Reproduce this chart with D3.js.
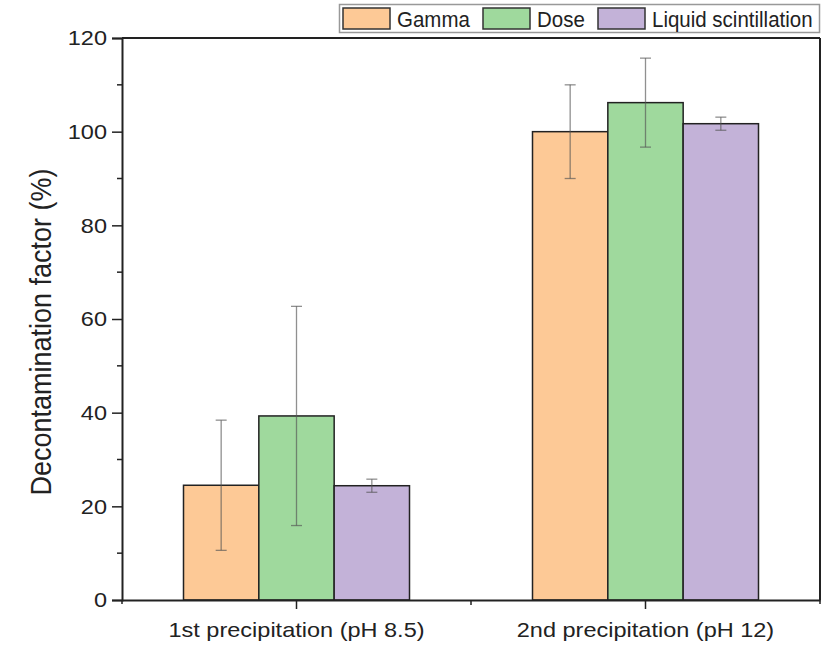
<!DOCTYPE html>
<html>
<head>
<meta charset="utf-8">
<script src="https://cdn.jsdelivr.net/npm/d3@7"></script>
<style>
  body { margin: 0; background: #fff; }
  text { font-family: Arial, "Liberation Sans", sans-serif; fill: #222; }
</style>
</head>
<body>
<svg id="chart" width="821" height="645"></svg>
<script>
// Data
const categories = ["1st precipitation (pH 8.5)", "2nd precipitation (pH 12)"];
const seriesNames = ["Gamma", "Dose", "Liquid scintillation"];
const seriesColors = ["#fdc996", "#9fd99d", "#c3b2d8"];
const gammaValues = [24.5, 100.0];
const gammaErrors = [13.9, 10.0];
const doseValues = [39.3, 106.2];
const doseErrors = [23.4, 9.5];
const lsValues = [24.4, 101.7];
const lsErrors = [1.4, 1.4];
const yTicks = [0, 20, 40, 60, 80, 100, 120];

const rows = [];
categories.forEach((c, i) => {
  rows.push({ cat: c, series: "Gamma", value: gammaValues[i], err: gammaErrors[i] });
  rows.push({ cat: c, series: "Dose", value: doseValues[i], err: doseErrors[i] });
  rows.push({ cat: c, series: "Liquid scintillation", value: lsValues[i], err: lsErrors[i] });
});

// Layout
const margin = { top: 38, right: 1, bottom: 45, left: 122 };
const width = 821 - margin.left - margin.right;
const height = 645 - margin.top - margin.bottom;
const stretch = 1.12; // text in the figure is slightly wide

const svg = d3.select("#chart");
const g = svg.append("g").attr("transform", `translate(${margin.left},${margin.top})`);

const x = d3.scaleBand().domain(categories).range([0, width]).padding(0);
const inner = d3.scaleBand().domain(seriesNames).range([-113, 113]).padding(0);
const y = d3.scaleLinear().domain([0, 120]).range([height, 0]);
const color = d3.scaleOrdinal().domain(seriesNames).range(seriesColors);

// Bars
g.selectAll(".bar")
  .data(rows)
  .enter()
  .append("rect")
  .attr("class", "bar")
  .attr("x", d => x(d.cat) + x.bandwidth() / 2 + inner(d.series))
  .attr("y", d => y(d.value))
  .attr("width", inner.bandwidth())
  .attr("height", d => y(0) - y(d.value))
  .attr("fill", d => color(d.series))
  .attr("stroke", "#222")
  .attr("stroke-width", 1.5);

// Error bars
const errG = g.selectAll(".err")
  .data(rows)
  .enter()
  .append("g")
  .attr("class", "err")
  .attr("stroke", "#555")
  .attr("stroke-opacity", 0.65)
  .attr("stroke-width", 1.3)
  .attr("transform", d => `translate(${x(d.cat) + x.bandwidth() / 2 + inner(d.series) + inner.bandwidth() / 2},0)`);
errG.append("line")
  .attr("y1", d => y(d.value + d.err))
  .attr("y2", d => y(d.value - d.err));
errG.append("line")
  .attr("x1", -5.5).attr("x2", 5.5)
  .attr("y1", d => y(d.value + d.err))
  .attr("y2", d => y(d.value + d.err));
errG.append("line")
  .attr("x1", -5.5).attr("x2", 5.5)
  .attr("y1", d => y(d.value - d.err))
  .attr("y2", d => y(d.value - d.err));

// Frame (top and right)
g.append("line").attr("x1", 0).attr("x2", width).attr("y1", 0).attr("y2", 0)
  .attr("stroke", "#222").attr("stroke-width", 2);
g.append("line").attr("x1", width).attr("x2", width).attr("y1", 0).attr("y2", height)
  .attr("stroke", "#222").attr("stroke-width", 2);

// Y axis
const yAxis = g.append("g")
  .call(d3.axisLeft(y).tickValues(yTicks).tickSize(10).tickPadding(5));
yAxis.selectAll(".domain").attr("stroke", "#222").attr("stroke-width", 2);
yAxis.selectAll(".tick line").attr("stroke", "#222").attr("stroke-width", 1.5);
yAxis.selectAll(".tick text")
  .style("font-size", "21px")
  .attr("fill", "#222")
  .attr("transform", `scale(${stretch},1)`)
  .attr("x", -15 / stretch);
yAxis.append("g")
  .selectAll("line")
  .data(d3.range(10, 120, 20))
  .enter()
  .append("line")
  .attr("x1", -5).attr("x2", 0)
  .attr("y1", d => y(d)).attr("y2", d => y(d))
  .attr("stroke", "#222").attr("stroke-width", 1.5);

// X axis
const xAxis = g.append("g")
  .attr("transform", `translate(0,${height})`)
  .call(d3.axisBottom(x).tickSize(9).tickPadding(13).tickSizeOuter(0));
xAxis.selectAll(".domain").attr("stroke", "#222").attr("stroke-width", 2);
xAxis.selectAll(".tick line").attr("stroke", "#222").attr("stroke-width", 1.5);
xAxis.selectAll(".tick text")
  .style("font-size", "21px")
  .attr("fill", "#222")
  .attr("transform", `scale(${stretch},1)`);
xAxis.append("g")
  .selectAll("line")
  .data([0, x.bandwidth(), width])
  .enter()
  .append("line")
  .attr("x1", d => d).attr("x2", d => d)
  .attr("y1", 0).attr("y2", (d, i) => i === 1 ? 5 : 4)
  .attr("stroke", "#222").attr("stroke-width", 1.5);

// Y axis label
svg.append("text")
  .attr("transform", `translate(51,332) rotate(-90) scale(1,${stretch})`)
  .attr("text-anchor", "middle")
  .style("font-size", "27px")
  .text("Decontamination factor (%)");

// Legend
const legend = svg.append("g");
legend.append("rect")
  .attr("x", 339.5).attr("y", 4.5).attr("width", 480).attr("height", 28)
  .attr("fill", "#fff").attr("stroke", "#999").attr("stroke-width", 1.5);
const legendX = [343, 483, 598];
const items = legend.selectAll(".item")
  .data(seriesNames)
  .enter()
  .append("g")
  .attr("class", "item")
  .attr("transform", (d, i) => `translate(${legendX[i]},8)`);
items.append("rect")
  .attr("width", 47).attr("height", 21)
  .attr("fill", d => color(d))
  .attr("stroke", "#333").attr("stroke-width", 1.5);
items.append("text")
  .attr("transform", "translate(54,19) scale(1,1.12)")
  .style("font-size", "20.5px")
  .text(d => d);
</script>
</body>
</html>
